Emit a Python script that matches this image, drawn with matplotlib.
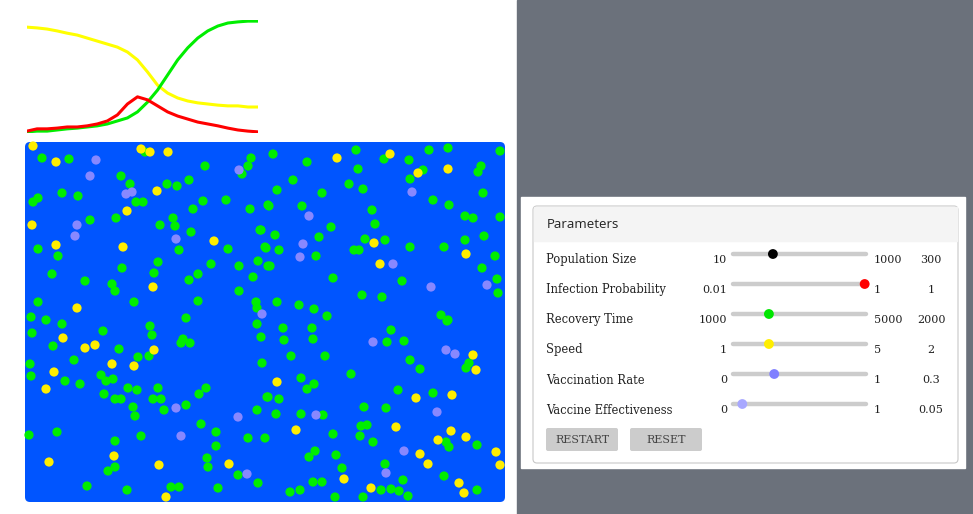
import matplotlib
matplotlib.use("Agg")
import matplotlib.pyplot as plt
from matplotlib.patches import Rectangle, FancyBboxPatch

# population curves (counts out of 300), one sample every ~10 px of chart width
susceptible = [281, 279, 276, 271, 265, 260, 252, 244, 236, 228, 215, 194, 162, 127,
               106, 93, 85, 80, 77, 74, 72, 72, 69, 69]
recovered = [3, 5, 5, 8, 11, 13, 16, 19, 24, 32, 40, 56, 82, 114, 154, 194, 226, 252,
             271, 284, 292, 295, 297, 297]
infected = [5, 11, 11, 13, 16, 16, 19, 24, 32, 48, 77, 96, 88, 72, 56, 45, 37, 29, 24,
            19, 13, 8, 5, 3]

# agent positions in the simulation box (screen pixels)
green_x = [42, 69, 145, 121, 130, 167, 177, 189, 205, 251, 248, 242, 62, 78, 38, 33, 136, 143,
           203, 226, 193, 250, 268, 90, 116, 173, 175, 160, 191, 260, 38, 58, 179, 228, 265,
           158, 211, 258, 239, 268, 122, 154, 52, 198, 253, 85, 189, 112, 115, 239, 38, 134,
           198, 256, 257, 31, 46, 186,
           273, 307, 356, 384, 409, 429, 448, 500, 481, 478, 423, 410, 358, 293, 349, 363, 277,
           322, 483, 269, 302, 433, 449, 372, 465, 473, 500, 375, 331, 261, 275, 319, 365, 385,
           465, 484, 266, 279, 354, 359, 410, 444, 316, 495, 270, 482, 333, 402, 497, 498, 362,
           382, 277, 299, 314, 327, 441, 448,
           32, 62, 103, 150, 152, 53, 119, 183, 181, 190, 257, 261, 30, 74, 138, 149, 262, 31,
           65, 80, 101, 106, 113, 128, 137, 158, 206, 199, 104, 115, 121, 153, 161, 267, 133,
           164, 186, 135, 257, 201, 29, 57, 115, 141, 216, 248, 265, 216, 207, 208, 115, 108,
           238, 258, 87, 127, 171, 179, 218,
           283, 312, 284, 313, 391, 387, 404, 447, 291, 325, 410, 420, 469, 466, 351, 301, 314,
           307, 398, 433, 268, 279, 364, 386, 276, 301, 323, 361, 367, 333, 360, 373, 446, 449,
           477, 315, 309, 336, 342, 385, 444, 403, 313, 322, 290, 300, 381, 391, 399, 408, 335,
           363, 477]
green_y = [158, 159, 152, 176, 184, 184, 186, 180, 166, 158, 166, 174, 193, 196, 198, 202, 202,
           202, 201, 200, 209, 209, 205, 220, 218, 218, 226, 225, 232, 230, 249, 256, 250, 249,
           247, 262, 264, 261, 266, 266, 268, 273, 274, 274, 277, 281, 280, 284, 291, 291, 302,
           302, 301, 302, 308, 317, 320, 318,
           154, 162, 150, 159, 160, 150, 148, 151, 166, 172, 170, 179, 169, 180, 184, 189, 190,
           193, 193, 206, 206, 200, 205, 210, 216, 218, 217, 224, 227, 230, 235, 237, 239, 240,
           240, 236, 248, 250, 250, 250, 247, 247, 256, 256, 266, 268, 278, 281, 279, 293, 295,
           297, 302, 305, 309, 316, 315, 320,
           333, 324, 331, 326, 335, 346, 349, 339, 343, 343, 324, 337, 364, 360, 357, 356, 363,
           376, 381, 384, 375, 381, 379, 388, 390, 388, 388, 394, 394, 399, 399, 399, 399, 397,
           407, 410, 405, 416, 410, 424, 435, 432, 441, 436, 432, 438, 438, 446, 458, 467, 467,
           471, 475, 483, 486, 490, 487, 487, 488,
           328, 328, 340, 339, 330, 342, 341, 321, 356, 356, 360, 369, 363, 368, 374, 378, 384,
           389, 390, 393, 397, 399, 407, 408, 414, 414, 415, 426, 425, 434, 436, 442, 442, 447,
           445, 451, 457, 455, 468, 464, 476, 480, 482, 482, 492, 490, 490, 489, 491, 496, 497,
           497, 490]
yellow_x = [33, 141, 150, 168, 56, 157, 127, 32, 214, 56, 123, 153, 77,
            337, 390, 418, 448, 374, 380, 466,
            63, 85, 95, 154, 112, 134, 54, 46, 114, 49, 159, 229, 166,
            473, 476, 277, 416, 452, 296, 396, 451, 438, 466, 496, 420, 500, 428, 344, 371,
            459, 464]
yellow_y = [146, 149, 152, 152, 162, 191, 211, 225, 241, 245, 247, 287, 308,
            158, 154, 173, 169, 243, 264, 254,
            338, 348, 345, 350, 364, 366, 372, 389, 456, 462, 465, 464, 497,
            355, 370, 382, 398, 395, 430, 427, 431, 440, 437, 452, 454, 465, 464, 479, 488,
            483, 493]
purple_x = [96, 90, 126, 132, 239, 77, 75, 176, 262, 412, 309, 303, 300, 393, 431, 487,
            176, 238, 181, 247, 373, 446, 455, 437, 316, 404, 386]
purple_y = [160, 176, 194, 192, 170, 225, 236, 239, 314, 192, 216, 244, 257, 264, 287, 285,
            408, 417, 436, 474, 342, 350, 354, 412, 415, 451, 473]

# slider panel
param_names = ["Population Size", "Infection Probability", "Recovery Time", "Speed",
               "Vaccination Rate", "Vaccine Effectiveness"]
param_min = ["10", "0.01", "1000", "1", "0", "0"]
param_max = ["1000", "1", "5000", "5", "1", "1"]
param_value = ["300", "1", "2000", "2", "0.3", "0.05"]
knob_frac = [0.30, 0.99, 0.27, 0.27, 0.31, 0.07]
knob_colors = ["black", "#ff0000", "#00e600", "#ffee00", "#8080ff", "#a8a8ff"]

W, H = 973, 514
fig = plt.figure(figsize=(W / 100, H / 100), dpi=100)
ax = fig.add_axes([0, 0, 1, 1])
ax.set_xlim(0, W)
ax.set_ylim(H, 0)
ax.axis("off")

ax.add_patch(Rectangle((517, 0), W - 517, H, color="#6b717b", zorder=0))

# simulation box
ax.add_patch(FancyBboxPatch((25, 142), 480, 360, boxstyle="round,pad=0,rounding_size=5",
                            fc="#0055ff", ec="none", zorder=1))
dot = 44
ax.scatter(green_x, green_y, s=dot, c="#00ee00", edgecolors="none", zorder=2)
ax.scatter(yellow_x, yellow_y, s=dot, c="#ffee00", edgecolors="none", zorder=2)
ax.scatter(purple_x, purple_y, s=dot, c="#8888ff", edgecolors="none", zorder=2)

# panel
ax.add_patch(Rectangle((521, 197), 444, 271, color="white", zorder=1))
ax.add_patch(FancyBboxPatch((533, 206), 425, 257, boxstyle="round,pad=0,rounding_size=4",
                            fc="white", ec="#c8c8c8", lw=0.8, zorder=2))
ax.add_patch(Rectangle((534, 207), 423, 34, color="#f4f4f4", zorder=3))
ax.text(547, 224, "Parameters", fontsize=9.5, family="Open Sans", color="#222222",
        va="center", zorder=4)

serif = "DejaVu Serif"
for i, name in enumerate(param_names):
    y = 260 + i * 30
    ty = y - 6
    ax.text(546, y, name, fontsize=8.3, family=serif, color="#222222", va="center", zorder=4)
    ax.text(727, y, param_min[i], fontsize=8, family=serif, color="#222222",
            va="center", ha="right", zorder=4)
    ax.text(874, y, param_max[i], fontsize=8, family=serif, color="#222222",
            va="center", zorder=4)
    ax.text(931, y, param_value[i], fontsize=8, family=serif, color="#222222",
            va="center", ha="center", zorder=4)
    ax.plot([733, 866], [ty, ty], color="#cccccc", lw=3.2, solid_capstyle="round", zorder=4)
    ax.scatter([733 + knob_frac[i] * 133], [ty], s=50, c=knob_colors[i],
               edgecolors="none", zorder=5)

for x0, label in [(546, "RESTART"), (630, "RESET")]:
    ax.add_patch(FancyBboxPatch((x0, 428), 72, 23, boxstyle="round,pad=0,rounding_size=2",
                                fc="#cccccc", ec="none", zorder=3))
    ax.text(x0 + 36, 440, label, fontsize=8, family=serif, color="#444444",
            ha="center", va="center", zorder=4)

# population curves
lx = fig.add_axes([27 / W, 1 - 133 / H, 231 / W, 113 / H])
t = list(range(len(susceptible)))
lx.plot(t, susceptible, color="#ffff00", lw=2.2)
lx.plot(t, recovered, color="#00ee00", lw=2.2)
lx.plot(t, infected, color="#ff0000", lw=2.2)
lx.set_xlim(0, len(t) - 1)
lx.set_ylim(0, 300)
lx.axis("off")

fig.savefig("out.png", dpi=100)
